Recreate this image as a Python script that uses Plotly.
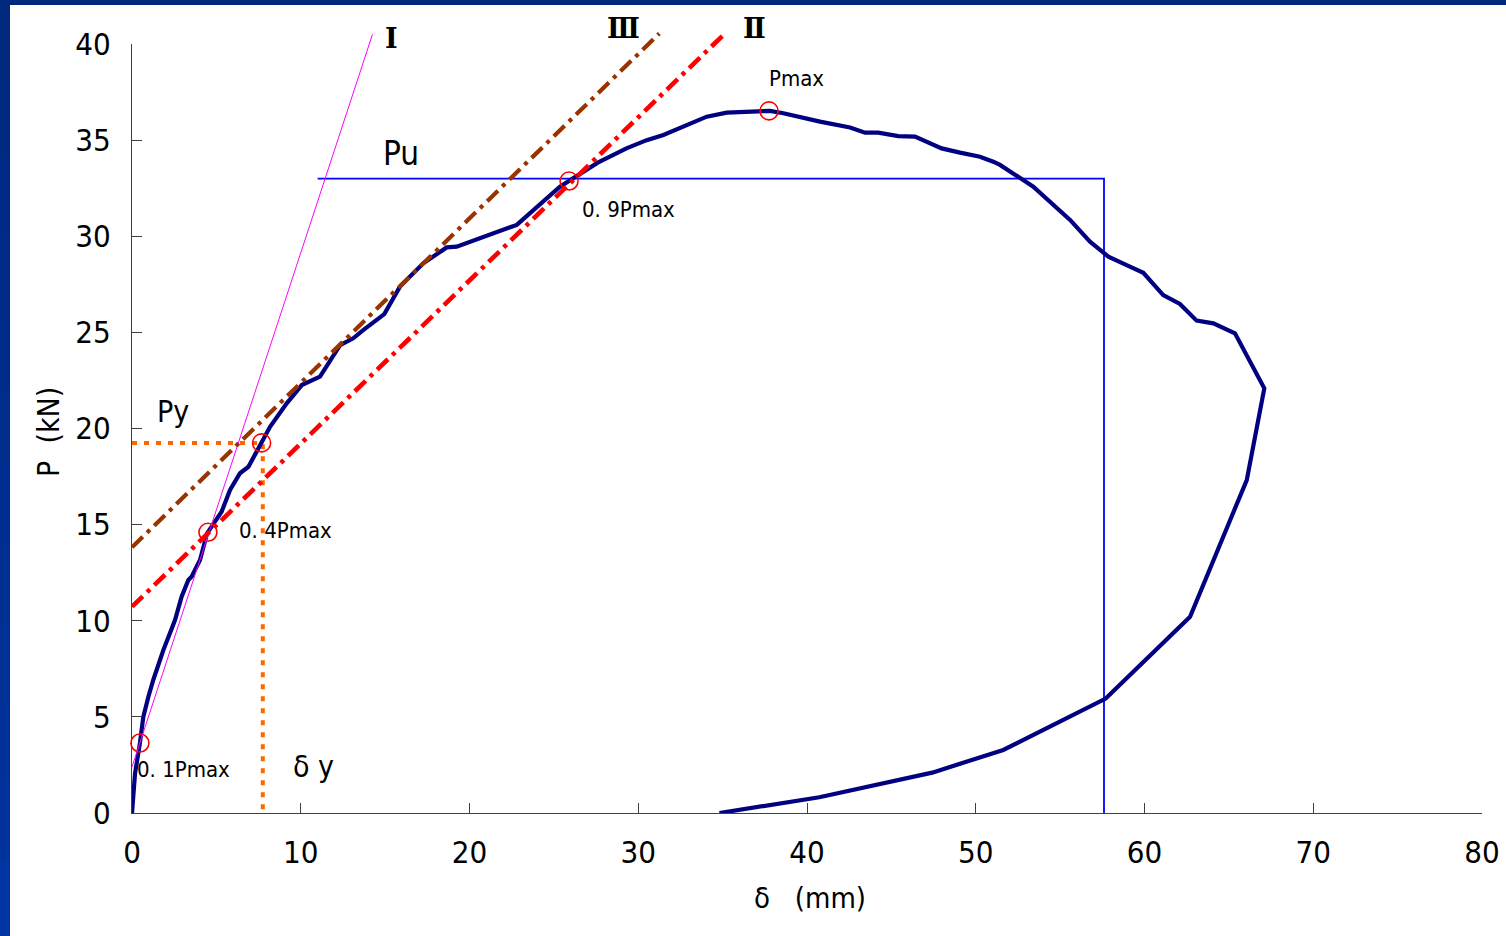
import plotly.graph_objects as go

# ---- data ----
delta = [0, 0.18, 0.47, 0.67, 0.97, 1.26, 1.86, 2.35, 2.55, 2.94, 3.34, 3.53, 4.03, 4.45,
         5.31, 5.81, 6.4, 6.9, 7.68, 8.18, 9.17, 10.06, 11.14, 11.54, 12.33, 13.11, 13.7,
         14.95, 15.88, 17.26, 18.65, 19.24, 22.8, 25.36, 25.9, 27.6, 29.3, 30.5, 31.49,
         32.87, 34.06, 35.24, 37.8, 38.6, 40.77, 42.55, 43.44, 44.22, 45.41, 46.4, 47.98,
         49.07, 50.25, 51.04, 51.44, 53.41, 55.59, 56.77, 57.86, 58.94, 59.93, 61.11, 62.1,
         63.09, 64.08, 65.36, 67.1, 66.06, 62.7, 57.7, 51.63, 47.42, 44.17, 40.73, 34.81]
load = [0, 2.06, 3.64, 5.0, 6.05, 6.92, 8.48, 9.52, 10.04, 11.25, 12.12, 12.29, 13.16, 14.55,
        15.67, 16.8, 17.67, 18.01, 19.23, 20.09, 21.31, 22.26, 22.7, 23.22, 24.34, 24.69, 25.12,
        25.95, 27.38, 28.59, 29.42, 29.46, 30.59, 32.58, 32.87, 33.83, 34.57, 35.0, 35.27,
        35.79, 36.22, 36.43, 36.52, 36.4, 35.96, 35.66, 35.39, 35.39, 35.21, 35.18, 34.57,
        34.35, 34.14, 33.88, 33.71, 32.58, 30.85, 29.72, 28.94, 28.5, 28.1, 26.94, 26.48,
        25.61, 25.47, 24.95, 22.09, 17.32, 10.21, 5.95, 3.28, 2.1, 1.46, 0.82, 0]

line1_x = [0, 14.25]
line1_y = [2.4, 40.5]
line2_x = [0, 35.14]
line2_y = [10.73, 40.55]
line3_x = [0, 31.25]
line3_y = [13.82, 40.55]

Pu = 33.0
Pu_x = [11.0, 57.6, 57.6]
Pu_y = [Pu, Pu, 0]

Py = 19.25
delta_y = 7.75
Py_x = [0, delta_y, delta_y]
Py_y = [Py, Py, 0]

pts_x = [0.47, 4.5, 7.68, 25.9, 37.75]
pts_y = [3.64, 14.6, 19.25, 32.87, 36.52]

labels = ["Ⅰ", "Ⅲ", "Ⅱ", "Pmax", "Pu", "0. 9Pmax", "Py", "0. 4Pmax", "0. 1Pmax", "δ y"]
label_x = [15.35, 29.1, 36.86, 39.35, 15.94, 29.45, 2.43, 9.07, 3.08, 10.73]
label_y = [40.31, 40.83, 40.83, 38.18, 34.28, 31.37, 20.86, 14.67, 2.24, 2.44]
label_size = [27, 27, 27, 22, 33, 22, 30, 22, 22, 30]

x_ticks = [0, 10, 20, 30, 40, 50, 60, 70, 80]
y_ticks = [0, 5, 10, 15, 20, 25, 30, 35, 40]

X_MAX, Y_MAX = 80, 40

# ---- layout geometry (pixels) ----
W, H = 1506, 936
ML, MR, MT, MB = 132, 24, 30, 123
PW, PH = W - ML - MR, H - MT - MB          # plot area incl. headroom for the guide lines
AX_H = 769                                 # height of the visible y axis (0..40)
y_dom_top = AX_H / PH
Y2_MAX = Y_MAX * PH / AX_H                 # same scale, extended range for the guide lines


def paper_y(v):
    return v / Y_MAX * y_dom_top


def px_x(px):
    return (px - ML) / PW


def px_y(py):
    return (H - MB - py) / PH


FONT = "DejaVu Sans Condensed, Liberation Sans, sans-serif"
ROMAN = "DejaVu Serif, Liberation Serif, serif"

fig = go.Figure()

# guide lines on an invisible overlay subplot with identical scale but more headroom
fig.add_trace(go.Scatter(x=line1_x, y=line1_y, mode="lines", xaxis="x2", yaxis="y2",
                         line=dict(color="#FF00FF", width=1)))
fig.add_trace(go.Scatter(x=line3_x, y=line3_y, mode="lines", xaxis="x2", yaxis="y2",
                         line=dict(color="#993300", width=4.2, dash="15px,6px,4px,6px")))
fig.add_trace(go.Scatter(x=line2_x, y=line2_y, mode="lines", xaxis="x2", yaxis="y2",
                         line=dict(color="#FF0000", width=4.6, dash="15px,6px,4px,6px")))

fig.add_trace(go.Scatter(x=Pu_x, y=Pu_y, mode="lines",
                         line=dict(color="#0000FF", width=1.8)))
fig.add_trace(go.Scatter(x=Py_x, y=Py_y, mode="lines",
                         line=dict(color="#FF6600", width=4, dash="5px,7px")))
fig.add_trace(go.Scatter(x=delta, y=load, mode="lines",
                         line=dict(color="#000080", width=4.2)))
fig.add_trace(go.Scatter(x=pts_x, y=pts_y, mode="markers", cliponaxis=False,
                         marker=dict(symbol="circle-open", size=18, color="#FF0000",
                                     line=dict(width=1.6, color="#FF0000"))))

for t, lx, ly, s in zip(labels, label_x, label_y, label_size):
    roman = t in ("Ⅰ", "Ⅱ", "Ⅲ")
    fig.add_annotation(x=lx, y=paper_y(ly), xref="x", yref="paper", text=t, showarrow=False,
                       xanchor="center", yanchor="middle",
                       font=dict(family=ROMAN if roman else FONT, size=s, color="black",
                                 weight="bold" if roman else "normal"))

# axis titles
fig.add_annotation(x=px_x(48), y=px_y(432), xref="paper", yref="paper", text="P  (kN)",
                   textangle=-90, showarrow=False, xanchor="center", yanchor="middle",
                   font=dict(family=FONT, size=30, color="black"))
fig.add_annotation(x=px_x(810), y=px_y(898), xref="paper", yref="paper", text="δ   (mm)",
                   showarrow=False, xanchor="center", yanchor="middle",
                   font=dict(family=FONT, size=29, color="black"))

# slide-like blue border (left and top)
L, R = px_x(0), px_x(W)
B, T = px_y(H), px_y(0)
n = 12
c_top = (0, 40, 125)
c_bot = (0, 52, 160)
for i in range(n):
    f = i / (n - 1)
    col = "rgb(%d,%d,%d)" % tuple(int(a + (b - a) * f) for a, b in zip(c_top, c_bot))
    y1 = T - (T - B) * i / n
    y0 = T - (T - B) * (i + 1) / n
    fig.add_shape(type="rect", xref="paper", yref="paper", x0=L, x1=px_x(10),
                  y0=y0, y1=y1, fillcolor=col, line=dict(width=0), layer="above")
fig.add_shape(type="rect", xref="paper", yref="paper", x0=L, x1=R,
              y0=px_y(5), y1=T, fillcolor="rgb(0,40,125)", line=dict(width=0),
              layer="above")

axis_common = dict(showgrid=False, zeroline=False, showline=True, linecolor="#404040",
                   linewidth=1.3, ticks="inside", tickcolor="#404040", tickwidth=1.3,
                   ticklen=10, automargin=False,
                   tickfont=dict(family=FONT, size=31, color="black"))

fig.update_layout(
    width=W, height=H, autosize=False,
    margin=dict(l=ML, r=MR, t=MT, b=MB, pad=0, autoexpand=False),
    paper_bgcolor="white", plot_bgcolor="rgba(0,0,0,0)",
    showlegend=False,
    xaxis=dict(range=[0, X_MAX], tickvals=x_ticks, ticklabelstandoff=12, domain=[0, 1],
               anchor="y", **axis_common),
    yaxis=dict(range=[0, Y_MAX], tickvals=y_ticks, ticklabelstandoff=14,
               domain=[0, y_dom_top], anchor="x", **axis_common),
    xaxis2=dict(range=[0, X_MAX], domain=[0, 1], anchor="y2", visible=False),
    yaxis2=dict(range=[0, Y2_MAX], domain=[0, 1], anchor="x2", visible=False),
)

fig.write_html("out.html", config={"displayModeBar": False, "responsive": False},
               post_script="document.body.style.margin='0';"
                           "document.body.style.overflow='hidden';")
